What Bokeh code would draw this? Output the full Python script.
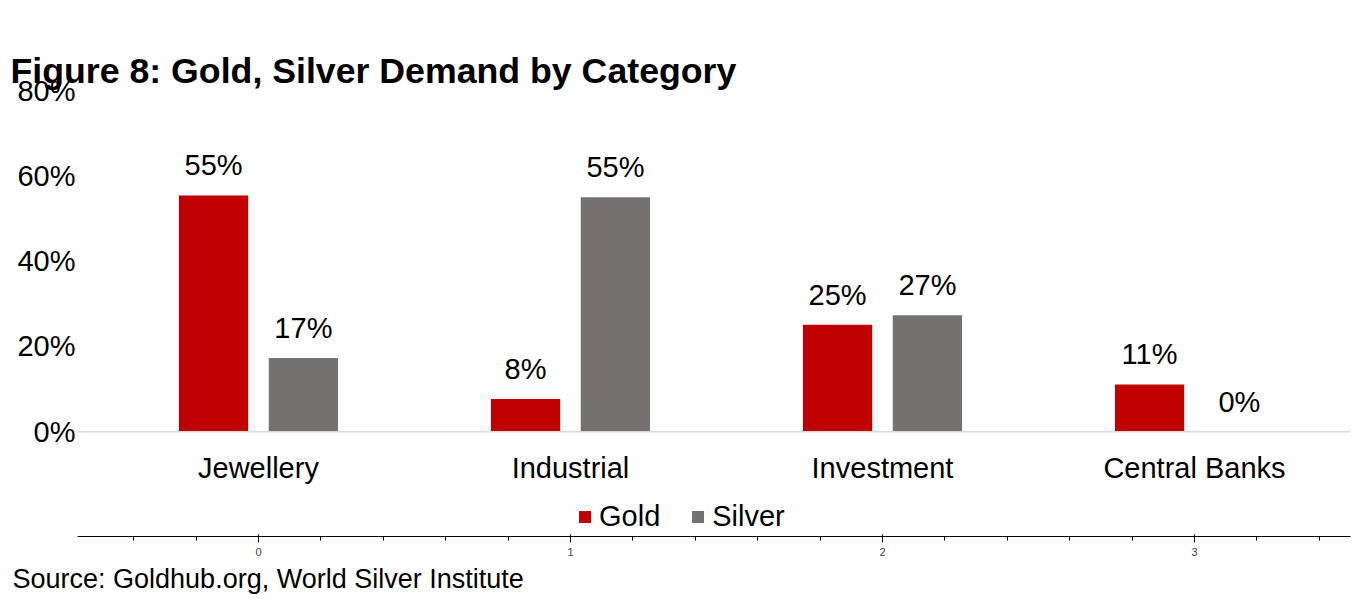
from bokeh.plotting import figure
from bokeh.models import (Range1d, FixedTicker, ColumnDataSource, Legend,
                          LegendItem, Title, Span, LinearAxis)
from bokeh.core.properties import value
from bokeh.embed import file_html
from bokeh.resources import INLINE

# ---- data ----
categories = ["Jewellery", "Industrial", "Investment", "Central Banks"]
gold = [55.4, 7.7, 25.1, 11.1]
silver = [17.3, 55.0, 27.3, 0.0]
y_ticks = [0, 20, 40, 60, 80]
y_tick_labels = ["0%", "20%", "40%", "60%", "80%"]
title_text = "Figure 8: Gold, Silver Demand by Category"
source_text = "Source: Goldhub.org, World Silver Institute"

GOLD_C = "#C00000"
SILVER_C = "#767171"
FONT = "Liberation Sans"

idx = list(range(len(categories)))
off = 0.144
bw = 0.222

gsrc = ColumnDataSource(dict(x=[i - off for i in idx], top=gold,
                             lab=[f"{v:.0f}%" for v in gold]))
ssrc = ColumnDataSource(dict(x=[i + off for i in idx], top=silver,
                             lab=[f"{v:.0f}%" for v in silver]))
csrc = ColumnDataSource(dict(x=idx, y=[0] * len(idx), lab=categories))

# frame: x 77..1350, y 90..550 ; value 0 at y=442, 80 at y=90
p = figure(width=1363, height=596, x_range=Range1d(-0.58, 3.5),
           y_range=Range1d(-24.545, 80), output_backend="svg",
           toolbar_location=None,
           min_border_left=77, min_border_right=13, min_border_top=90,
           min_border_bottom=46)
p.outline_line_color = None
p.grid.visible = False
p.background_fill_color = "white"
p.border_fill_color = "white"

p.title.text = title_text
p.title.align = "left"
p.title.offset = -67
p.title.standoff = 0
p.title.text_font = FONT
p.title.text_font_size = "35.7px"
p.title.text_font_style = "bold"
p.title.text_color = "black"

# empty top axis used only as spacing between title and plot area
spacer = LinearAxis(ticker=FixedTicker(ticks=[]), axis_line_color=None,
                    major_tick_line_color=None, minor_tick_line_color=None,
                    major_tick_out=37, major_tick_in=0, minor_tick_out=0,
                    minor_tick_in=0, major_label_standoff=0)
p.add_layout(spacer, "above")

# category baseline
p.add_layout(Span(location=0, dimension="width", line_color="#D9D9D9",
                  line_width=1.5))

rg = p.vbar(x="x", top="top", width=bw, source=gsrc, fill_color=GOLD_C,
            line_color=None)
rs = p.vbar(x="x", top="top", width=bw, source=ssrc, fill_color=SILVER_C,
            line_color=None)

for src in (gsrc, ssrc):
    p.text(x="x", y="top", text="lab", source=src, text_align="center",
           text_baseline="alphabetic", y_offset=-30, text_font=value(FONT),
           text_font_size="29px", text_color="black")

# category labels under the baseline
p.text(x="x", y="y", text="lab", source=csrc, text_align="center",
       text_baseline="middle", y_offset=36, text_font=value(FONT),
       text_font_size="29px", text_color="black")

# y axis
ya = p.yaxis[0]
ya.ticker = FixedTicker(ticks=y_ticks)
ya.major_label_overrides = {t: l for t, l in zip(y_ticks, y_tick_labels)}
ya.axis_line_color = None
ya.major_tick_line_color = None
ya.minor_tick_line_color = None
ya.major_tick_out = 0
ya.major_tick_in = 0
ya.minor_tick_out = 0
ya.major_label_standoff = 2
ya.major_label_text_font = FONT
ya.major_label_text_font_size = "29px"
ya.major_label_text_color = "black"

p.xaxis[0].visible = False

# legend inside the (extended) frame
legend = Legend(items=[LegendItem(label="Gold", renderers=[rg]),
                       LegendItem(label="Silver", renderers=[rs])],
                orientation="horizontal", location=(500, 3),
                glyph_width=15, glyph_height=15, label_standoff=7, spacing=30,
                padding=0, margin=0, border_line_color=None,
                background_fill_alpha=0, label_text_font=FONT,
                label_text_font_size="29px", label_text_color="black",
                label_height=30)
p.add_layout(legend, "center")

src_title = Title(text=source_text, align="left", offset=-65, standoff=6,
                  text_font=FONT, text_font_size="27px",
                  text_font_style="normal", text_color="black")
p.add_layout(src_title, "below")

open("out.html", "w").write(file_html(p, INLINE))
